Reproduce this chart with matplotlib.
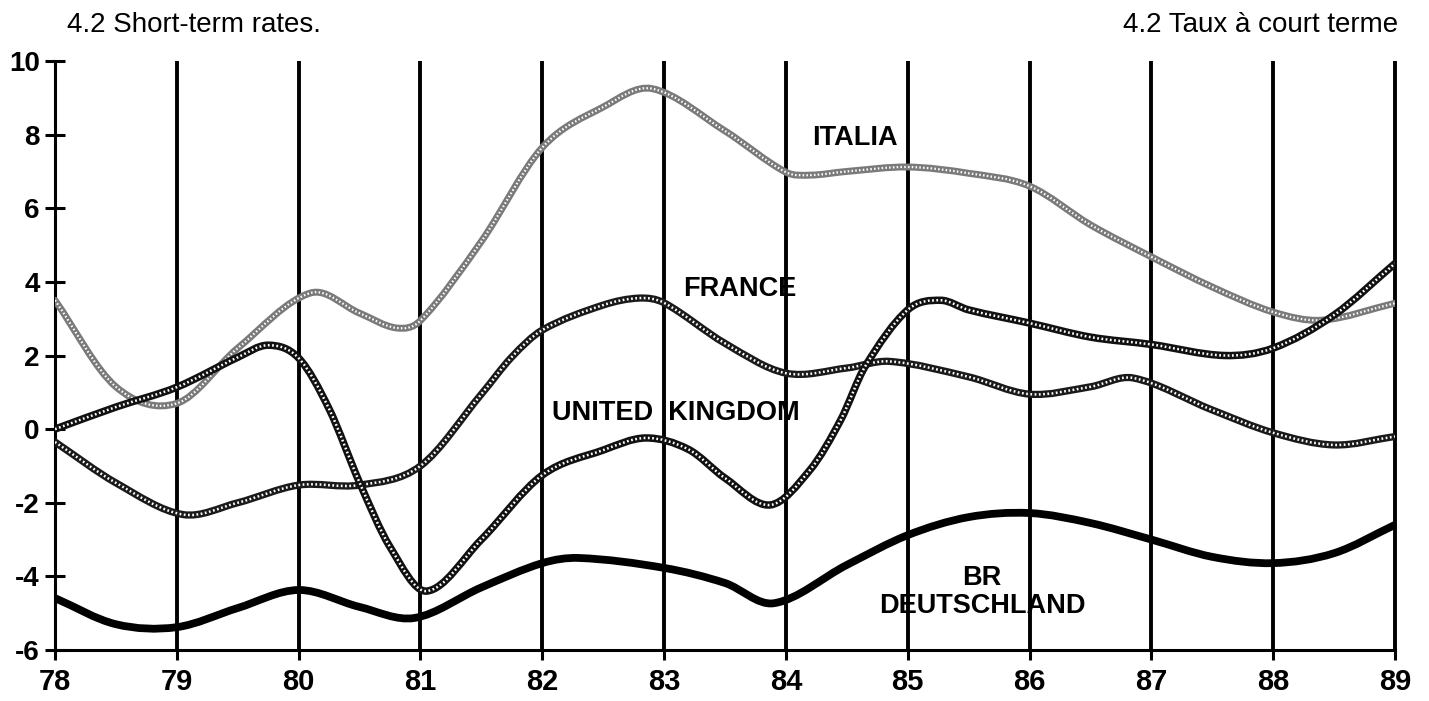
import numpy as np
import matplotlib
matplotlib.use("Agg")
import matplotlib.pyplot as plt
from matplotlib.path import Path
from matplotlib.patches import PathPatch

plt.rcParams['font.family'] = ['Liberation Sans', 'DejaVu Sans']
plt.rcParams['axes.unicode_minus'] = False

# ---------------- data ----------------
years = [78, 79, 80, 81, 82, 83, 84, 85, 86, 87, 88, 89]
y_ticks = [-6, -4, -2, 0, 2, 4, 6, 8, 10]

italia_x = [78, 78.5, 79, 79.5, 80.1, 80.5, 80.8, 81, 81.5, 82, 82.5, 82.9, 83.5, 84, 84.2,
            84.5, 85, 85.5, 86, 86.5, 87, 87.5, 88, 88.4, 89]
italia_y = [3.5, 1.15, 0.7, 2.2, 3.7, 3.15, 2.75, 2.95, 5.1, 7.65, 8.75, 9.25, 8.1, 6.98, 6.9,
            7.0, 7.12, 6.95, 6.6, 5.55, 4.68, 3.86, 3.18, 2.96, 3.42]

france_x = [78, 78.5, 79.05, 79.5, 80, 80.5, 81, 81.5, 81.75, 82, 82.5, 82.8, 83, 83.5, 84,
            84.5, 84.85, 85.5, 86, 86.5, 86.85, 87.5, 88, 88.5, 89]
france_y = [-0.35, -1.46, -2.32, -2.0, -1.52, -1.52, -1.0, 0.95, 1.96, 2.69, 3.37, 3.56, 3.43,
            2.33, 1.52, 1.66, 1.84, 1.42, 0.95, 1.15, 1.39, 0.52, -0.1, -0.43, -0.2]

uk_x = [78, 78.5, 79, 79.5, 79.75, 80, 80.25, 80.5, 80.75, 81.05, 81.5, 82, 82.5, 82.85, 83.2,
        83.5, 83.87, 84.2, 84.45, 84.65, 85, 85.27, 85.5, 86, 86.5, 87, 87.6, 88, 88.5, 89]
uk_y = [0.0, 0.6, 1.14, 1.95, 2.28, 1.93, 0.55, -1.45, -3.2, -4.4, -3.0, -1.25, -0.57, -0.24,
        -0.55, -1.33, -2.06, -1.1, 0.25, 1.7, 3.24, 3.5, 3.24, 2.88, 2.5, 2.3, 2.0, 2.2, 3.1, 4.5]

germany_x = [78, 78.5, 79, 79.5, 80, 80.5, 80.95, 81.5, 82, 82.3, 83, 83.5, 83.9, 84.5, 85,
             85.5, 86, 86.5, 87, 87.5, 88, 88.5, 89]
germany_y = [-4.59, -5.3, -5.38, -4.86, -4.37, -4.83, -5.13, -4.3, -3.64, -3.5, -3.77, -4.18,
             -4.73, -3.69, -2.88, -2.39, -2.28, -2.55, -3.0, -3.47, -3.64, -3.37, -2.6]

title_left = "4.2 Short-term rates."
title_right = "4.2 Taux à court terme"


# ---------------- helpers ----------------
def smooth_path(xs, ys):
    xs = np.asarray(xs, float)
    ys = np.asarray(ys, float)
    n = len(xs)
    m = np.empty(n)
    m[0] = (ys[1] - ys[0]) / (xs[1] - xs[0])
    m[-1] = (ys[-1] - ys[-2]) / (xs[-1] - xs[-2])
    for i in range(1, n - 1):
        m[i] = (ys[i + 1] - ys[i - 1]) / (xs[i + 1] - xs[i - 1])
    verts = [(xs[0], ys[0])]
    codes = [Path.MOVETO]
    for i in range(n - 1):
        h = xs[i + 1] - xs[i]
        verts.append((xs[i] + h / 3, ys[i] + m[i] * h / 3))
        verts.append((xs[i + 1] - h / 3, ys[i + 1] - m[i + 1] * h / 3))
        verts.append((xs[i + 1], ys[i + 1]))
        codes += [Path.CURVE4] * 3
    return Path(verts, codes)


def draw(ax, xs, ys, color, lw, overlay=None, z=3):
    p = smooth_path(xs, ys)
    ax.add_patch(PathPatch(p, fill=False, edgecolor=color, lw=lw, capstyle='round',
                           joinstyle='round', zorder=z))
    if overlay is not None:
        ocolor, olw, ols = overlay
        ax.add_patch(PathPatch(p, fill=False, edgecolor=ocolor, lw=olw, linestyle=ols,
                               capstyle='butt', zorder=z + 0.1))


# ---------------- figure ----------------
fig = plt.figure(figsize=(14.29, 7.01), dpi=100)
ax = fig.add_axes([55 / 1429, 1 - 650 / 701, (1395 - 55) / 1429, (650 - 61) / 701])

ax.set_xlim(78, 89)
ax.set_ylim(-6, 10)

# vertical year lines
ax.vlines(years[1:], -6, 10, colors='black', lw=2.8, zorder=1, clip_on=False)

# series
draw(ax, italia_x, italia_y, '#7a7a7a', 5.0, ('white', 1.6, (0, (0.7, 1.0))), z=3)
draw(ax, france_x, france_y, '#1a1a1a', 5.2, ('white', 1.8, (0, (0.7, 1.0))), z=4)
draw(ax, uk_x, uk_y, '#111111', 5.4, ('white', 1.8, (0, (0.7, 1.0))), z=5)
draw(ax, germany_x, germany_y, 'black', 5.6, None, z=6)

# axes styling
for s in ['top', 'right']:
    ax.spines[s].set_visible(False)
for s in ['left', 'bottom']:
    ax.spines[s].set_linewidth(2.2)
    ax.spines[s].set_zorder(2)

ax.set_xticks(years)
ax.set_xticklabels([str(y) for y in years])
ax.set_yticks(y_ticks)
ax.set_yticklabels([str(v) for v in y_ticks])
ax.tick_params(axis='y', direction='inout', length=14, width=2.2, pad=4,
               labelsize=20)
ax.tick_params(axis='x', direction='out', length=7, width=2.2, pad=6,
               labelsize=21)
for lab in ax.get_xticklabels() + ax.get_yticklabels():
    lab.set_fontweight('bold')

# series labels
lab_kw = dict(fontsize=19.5, fontweight='bold', color='black', zorder=10)
ax.text(84.57, 7.91, "ITALIA", ha='center', va='center', **lab_kw)
ax.text(83.62, 3.81, "FRANCE", ha='center', va='center', **lab_kw)
ax.text(83.1, 0.44, "UNITED  KINGDOM", ha='center', va='center', **lab_kw)
ax.text(85.61, -4.43, "BR\nDEUTSCHLAND", ha='center', va='center', linespacing=1.1,
        **lab_kw)

# titles
fig.text(67 / 1429, 1 - 32 / 701, title_left, ha='left', va='baseline', fontsize=20)
fig.text(1398 / 1429, 1 - 32 / 701, title_right, ha='right', va='baseline', fontsize=20)

fig.savefig("out.png", dpi=100, facecolor='white')
